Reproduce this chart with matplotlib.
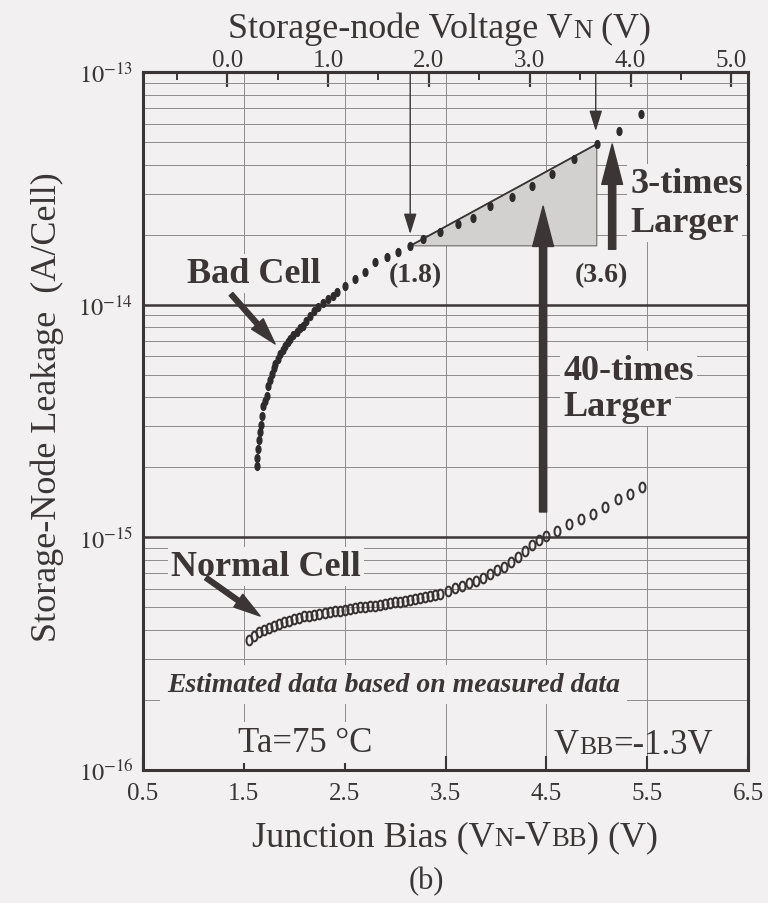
import matplotlib
matplotlib.use("Agg")
import matplotlib.pyplot as plt
import numpy as np
from matplotlib.offsetbox import TextArea, HPacker, AnnotationBbox
from matplotlib.path import Path
from matplotlib.ticker import FixedLocator, LogLocator, NullFormatter, FormatStrFormatter

plt.rcParams["font.family"] = ["Liberation Serif", "DejaVu Serif"]
plt.rcParams["mathtext.fontset"] = "stix"

INK = "#3b3536"
GRID = "#8e898a"
PAPER = "#f2f0f0"

# junction bias (V) vs storage-node leakage (A/cell)
bad_jb = [1.63, 1.635, 1.64, 1.65, 1.66, 1.67, 1.68, 1.69, 1.71, 1.73, 1.74, 1.76,
          1.78, 1.80, 1.81, 1.835, 1.86, 1.885, 1.91, 1.935, 1.96, 1.99, 2.03, 2.06,
          2.09, 2.12, 2.16, 2.20, 2.24, 2.29, 2.335, 2.38, 2.425, 2.50, 2.60, 2.70,
          2.80, 2.92, 3.03, 3.15, 3.28, 3.45, 3.62, 3.77, 3.94, 4.16, 4.36, 4.56,
          4.77, 5.00, 5.22, 5.44]
bad_leak = [2.03e-15, 2.2e-15, 2.4e-15, 2.62e-15, 2.84e-15, 3.05e-15, 3.32e-15,
            3.67e-15, 3.85e-15, 4.06e-15, 4.48e-15, 4.75e-15, 5.04e-15, 5.35e-15,
            5.56e-15, 5.85e-15, 6.14e-15, 6.4e-15, 6.65e-15, 6.9e-15, 7.13e-15,
            7.4e-15, 7.64e-15, 7.9e-15, 8.1e-15, 8.5e-15, 8.9e-15, 9.35e-15, 9.8e-15,
            1.02e-14, 1.06e-14, 1.09e-14, 1.13e-14, 1.2e-14, 1.29e-14, 1.38e-14,
            1.53e-14, 1.6e-14, 1.68e-14, 1.79e-14, 1.91e-14, 2.05e-14, 2.22e-14,
            2.36e-14, 2.66e-14, 2.9e-14, 3.24e-14, 3.65e-14, 4.23e-14, 4.91e-14,
            5.57e-14, 6.6e-14]

normal_jb = [1.55, 1.60, 1.65, 1.70, 1.75, 1.80, 1.85, 1.90, 1.95, 2.00, 2.05, 2.10,
             2.15, 2.20, 2.25, 2.30, 2.35, 2.40, 2.45, 2.50, 2.55, 2.60, 2.65, 2.70,
             2.75, 2.80, 2.85, 2.90, 2.95, 3.00, 3.05, 3.10, 3.15, 3.20, 3.25, 3.30,
             3.35, 3.40, 3.45, 3.52, 3.59, 3.66, 3.73, 3.80, 3.87, 3.94, 4.01, 4.08,
             4.15, 4.22, 4.29, 4.36, 4.43, 4.50, 4.61, 4.72, 4.84, 4.96, 5.08, 5.21,
             5.33, 5.45]
normal_leak = [3.62e-16, 3.78e-16, 3.90e-16, 3.99e-16, 4.07e-16, 4.15e-16, 4.23e-16,
               4.31e-16, 4.39e-16, 4.46e-16, 4.52e-16, 4.57e-16, 4.61e-16, 4.65e-16,
               4.70e-16, 4.74e-16, 4.77e-16, 4.80e-16, 4.83e-16, 4.87e-16, 4.91e-16,
               4.96e-16, 5.00e-16, 5.03e-16, 5.06e-16, 5.09e-16, 5.13e-16, 5.17e-16,
               5.22e-16, 5.25e-16, 5.29e-16, 5.32e-16, 5.37e-16, 5.42e-16, 5.47e-16,
               5.53e-16, 5.59e-16, 5.66e-16, 5.73e-16, 5.88e-16, 6.04e-16, 6.20e-16,
               6.35e-16, 6.52e-16, 6.70e-16, 6.98e-16, 7.22e-16, 7.43e-16, 7.80e-16,
               8.20e-16, 8.70e-16, 9.30e-16, 9.70e-16, 1.01e-15, 1.06e-15, 1.14e-15,
               1.20e-15, 1.26e-15, 1.35e-15, 1.46e-15, 1.54e-15, 1.65e-15]

bottom_ticks = [0.5, 1.5, 2.5, 3.5, 4.5, 5.5, 6.5]
top_ticks = [0.0, 1.0, 2.0, 3.0, 4.0, 5.0]
VN_SHIFT = 1.335          # V_N = junction bias + V_BB (as drawn on the scan)

# reference points of the slope triangle: (junction bias, leakage)
p18 = (3.15, 1.79e-14)
p36 = (5.00, 4.9e-14)

t = np.linspace(0, 2 * np.pi, 40)
oval = Path(np.column_stack([0.62 * np.cos(t), np.sin(t)]))

fig = plt.figure(figsize=(7.68, 9.04), dpi=100, facecolor=PAPER)
ax = fig.add_axes([143 / 768, 1 - 771 / 904, 605 / 768, 698 / 904], facecolor=PAPER)
ax.set_xlim(0.5, 6.5)
ax.set_yscale("log")
ax.set_ylim(1e-16, 1e-13)

# grid
ax.xaxis.set_major_locator(FixedLocator(bottom_ticks))
ax.xaxis.set_major_formatter(FormatStrFormatter("%.1f"))
ax.yaxis.set_minor_locator(LogLocator(base=10, subs=np.arange(2, 10), numticks=20))
ax.yaxis.set_minor_formatter(NullFormatter())
ax.set_yticks([1e-16, 1e-15, 1e-14, 1e-13])
ax.set_yticklabels([r"$10^{-16}$", r"$10^{-15}$", r"$10^{-14}$", r"$10^{-13}$"])
ax.grid(which="major", axis="y", color=INK, lw=1.8, zorder=1)
ax.grid(which="minor", axis="y", color=GRID, lw=0.7, zorder=1)
ax.grid(which="major", axis="x", color=GRID, lw=0.7, zorder=1)
ax.set_axisbelow(True)
ax.tick_params(axis="x", which="major", direction="in", length=10, width=1.5,
               color=INK, labelsize=18, labelcolor=INK, pad=9)
ax.tick_params(axis="y", which="both", length=0, labelsize=17.5, labelcolor=INK, pad=7)
for sp in ax.spines.values():
    sp.set_linewidth(2.2)
    sp.set_color(INK)

top = ax.secondary_xaxis("top", functions=(lambda x: x - VN_SHIFT, lambda v: v + VN_SHIFT))
top.xaxis.set_major_locator(FixedLocator(top_ticks))
top.xaxis.set_minor_locator(FixedLocator(np.arange(-0.5, 5.6, 1.0)))
top.xaxis.set_major_formatter(FormatStrFormatter("%.1f"))
top.tick_params(which="major", direction="in", length=11, width=1.6, color=INK,
                labelsize=18, labelcolor=INK, pad=1)
top.tick_params(which="minor", direction="in", length=6, width=1.4, color=INK)
top.spines["top"].set_linewidth(2.2)
top.spines["top"].set_color(INK)

# slope triangle
ax.fill([p18[0], p36[0], p36[0]], [p18[1], p36[1], p18[1]], facecolor="#d3d0d0",
        edgecolor="#6d6768", lw=0.8, zorder=2)
ax.plot([p18[0], p36[0]], [p18[1], p36[1]], color=INK, lw=1.3, zorder=3)

# data
ax.plot(bad_jb, bad_leak, ls="none", marker=oval, ms=5.6, color="#2f2a2b", zorder=4)
ax.plot(normal_jb, normal_leak, ls="none", marker=oval, ms=7.0, mfc="none",
        mec="#383233", mew=1.45, zorder=4)

# thin down arrows from the top axis
for x, tip in ((p18[0], 2.01e-14), (4.99, 5.57e-14)):
    ax.annotate("", xy=(x, tip), xytext=(x, 1e-13),
                arrowprops=dict(arrowstyle="-|>,head_length=0.9,head_width=0.28",
                                color=INK, lw=1.0, shrinkA=0, shrinkB=0,
                                mutation_scale=14), zorder=5)

# thick up arrows
big = dict(arrowstyle="simple,head_length=1.45,head_width=0.75,tail_width=0.26",
           color=INK, shrinkA=0, shrinkB=0, mutation_scale=20)
ax.annotate("", xy=(4.468, 2.65e-14), xytext=(4.468, 1.285e-15), arrowprops=big, zorder=5)
ax.annotate("", xy=(5.153, 4.9e-14), xytext=(5.153, 1.73e-14), arrowprops=big, zorder=5)

# label pointers
ptr = dict(arrowstyle="simple,head_length=1.2,head_width=0.7,tail_width=0.22",
           color=INK, shrinkA=0, shrinkB=0, mutation_scale=16)
ax.annotate("", xy=(1.81, 6.78e-15), xytext=(1.373, 1.11e-14), arrowprops=ptr, zorder=5)
ax.annotate("", xy=(1.661, 4.59e-16), xytext=(1.125, 6.7e-16), arrowprops=ptr, zorder=5)

# annotations
mask = dict(facecolor=PAPER, edgecolor="none", pad=2)
bold = dict(fontsize=26, fontweight="bold", color=INK, va="baseline", zorder=3)
ax.text(1.596, 1.25e-14, "Bad Cell", ha="center", bbox=mask, **bold)
ax.text(0.778, 6.89e-16, "Normal Cell", ha="left", bbox=mask, **bold)
ax.text(4.667, 4.8e-15, "40-times", ha="left", bbox=mask, **bold)
ax.text(4.667, 3.36e-15, "Larger", ha="left", bbox=mask, **bold)
ax.text(5.331, 3.05e-14, "3-times", ha="left", bbox=mask, **bold)
ax.text(5.331, 2.07e-14, "Larger", ha="left", bbox=mask, **bold)
ax.text(3.198, 1.26e-14, "(1.8)", ha="center", va="baseline", fontsize=20,
        fontweight="bold", color=INK, zorder=3)
ax.text(5.044, 1.26e-14, "(3.6)", ha="center", va="baseline", fontsize=20,
        fontweight="bold", color=INK, zorder=3)
ax.text(0.738, 2.19e-16, "Estimated data based on measured data", ha="left",
        va="baseline", fontsize=20, fontweight="bold", fontstyle="italic", color=INK,
        bbox=dict(facecolor=PAPER, edgecolor="none", pad=5), zorder=3)
ax.text(1.442, 1.21e-16, "Ta=75 °C", ha="left", va="baseline", fontsize=25, color=INK,
        bbox=dict(facecolor=PAPER, edgecolor="none", pad=3), zorder=3)


def smallcaps(parts, size, ratio=0.74):
    """Pack text pieces on one baseline; pieces flagged True get the smaller size."""
    kids = [TextArea(s, textprops=dict(fontsize=size * ratio if small else size,
                                       color=INK, family="Liberation Serif"))
            for s, small in parts]
    return HPacker(children=kids, align="baseline", pad=0, sep=0)


vbb = smallcaps([("V", False), ("BB", True), ("=-1.3V", False)], 25)
ax.add_artist(AnnotationBbox(vbb, (4.577, 1.29e-16), xycoords="data", frameon=False,
                             box_alignment=(0, 0.5), pad=0, zorder=3))

top_lab = smallcaps([("Storage-node Voltage V", False), ("N", True), (" (V)", False)], 26)
fig.add_artist(AnnotationBbox(top_lab, (440 / 768, 1 - 29 / 904), xycoords="figure fraction",
                              frameon=False, box_alignment=(0.5, 0.5), pad=0))
bot_lab = smallcaps([("Junction Bias (V", False), ("N", True), ("-V", False), ("BB", True),
                     (") (V)", False)], 26)
fig.add_artist(AnnotationBbox(bot_lab, (455 / 768, 1 - 838 / 904), xycoords="figure fraction",
                              frameon=False, box_alignment=(0.5, 0.5), pad=0))

fig.text(47 / 768, 1 - 407 / 904, "Storage-Node Leakage  (A/Cell)", rotation=90,
         ha="center", va="center", fontsize=26, color=INK)
fig.text(426 / 768, 1 - 882 / 904, "(b)", ha="center", va="center", fontsize=22, color=INK)

fig.savefig("out.png", dpi=100, facecolor=PAPER)
